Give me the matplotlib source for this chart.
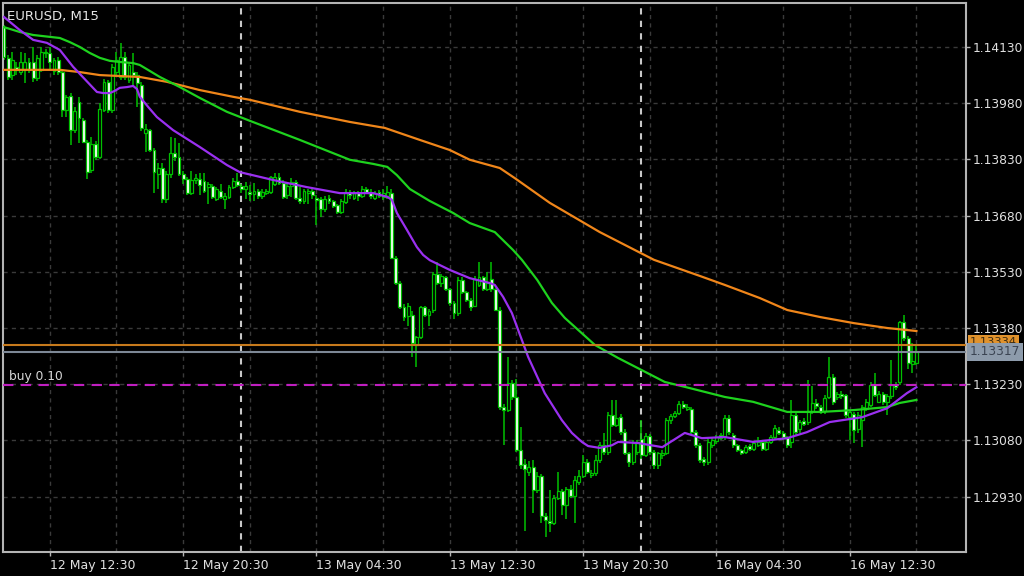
import numpy as np
import matplotlib
matplotlib.use("Agg")
import matplotlib.pyplot as plt
import matplotlib.transforms as mtransforms

# EURUSD M15 candles, bar 0 = 12 May 09:45
opens = [
    1.14183, 1.14101, 1.14055, 1.14077, 1.14063, 1.14069, 1.14090, 1.14090, 1.14047, 1.14069,
    1.14117, 1.14114, 1.14066, 1.14095, 1.14063, 1.13962, 1.13999, 1.13908, 1.13983, 1.13935,
    1.13877, 1.13803, 1.13872, 1.13836, 1.13962, 1.14037, 1.13962, 1.14063, 1.14050, 1.14103,
    1.14042, 1.14063, 1.14055, 1.14029, 1.13900, 1.13908, 1.13855, 1.13790, 1.13808, 1.13723,
    1.13790, 1.13847, 1.13836, 1.13790, 1.13777, 1.13740, 1.13775, 1.13777, 1.13773, 1.13755,
    1.13760, 1.13725, 1.13745, 1.13723, 1.13730, 1.13757, 1.13773, 1.13760, 1.13750, 1.13742,
    1.13737, 1.13745, 1.13733, 1.13740, 1.13742, 1.13765, 1.13782, 1.13768, 1.13735, 1.13760,
    1.13770, 1.13728, 1.13718, 1.13740, 1.13745, 1.13728, 1.13725, 1.13697, 1.13728, 1.13718,
    1.13708, 1.13690, 1.13715, 1.13742, 1.13728, 1.13740, 1.13733, 1.13752, 1.13742, 1.13728,
    1.13742, 1.13730, 1.13732, 1.13740, 1.13568, 1.13500, 1.13437, 1.13412, 1.13416, 1.13335,
    1.13355, 1.13435, 1.13416, 1.13429, 1.13523, 1.13500, 1.13515, 1.13483, 1.13448, 1.13420,
    1.13509, 1.13475, 1.13456, 1.13440, 1.13495, 1.13515, 1.13485, 1.13510, 1.13483, 1.13429,
    1.13168, 1.13161, 1.13232, 1.13195, 1.13054, 1.13018, 1.12995, 1.13010, 1.12947, 1.12985,
    1.12877, 1.12865, 1.12860, 1.12925, 1.12945, 1.12907, 1.12950, 1.12932, 1.12970, 1.12985,
    1.13022, 1.12987, 1.12992, 1.13027, 1.13067, 1.13048, 1.13148, 1.13121, 1.13143, 1.13102,
    1.13046, 1.13022, 1.13050, 1.13085, 1.13040, 1.13092, 1.13048, 1.13014, 1.13040, 1.13046,
    1.13134, 1.13145, 1.13152, 1.13178, 1.13165, 1.13165, 1.13102, 1.13067, 1.13030, 1.13022,
    1.13068, 1.13078, 1.13094, 1.13088, 1.13140, 1.13094, 1.13067, 1.13054, 1.13050, 1.13064,
    1.13058, 1.13068, 1.13075, 1.13058, 1.13075, 1.13088, 1.13107, 1.13100, 1.13088, 1.13075,
    1.13148, 1.13110, 1.13132, 1.13128, 1.13158, 1.13180, 1.13168, 1.13158, 1.13195, 1.13250,
    1.13195, 1.13205, 1.13200, 1.13142, 1.13150, 1.13110, 1.13135, 1.13165, 1.13175, 1.13228,
    1.13183, 1.13205, 1.13183, 1.13198, 1.13228, 1.13235, 1.13396, 1.13353, 1.13285, 1.13287,
]
highs = [
    1.14189, 1.14109, 1.14117, 1.14090, 1.14117, 1.14114, 1.14101, 1.14130, 1.14109, 1.14130,
    1.14125, 1.14130, 1.14101, 1.14104, 1.14069, 1.14002, 1.14007, 1.13970, 1.13997, 1.13940,
    1.13882, 1.13890, 1.13880, 1.13980, 1.14045, 1.14042, 1.14085, 1.14117, 1.14141, 1.14117,
    1.14090, 1.14114, 1.14063, 1.14037, 1.13925, 1.13912, 1.13860, 1.13820, 1.13820, 1.13800,
    1.13890, 1.13887, 1.13874, 1.13800, 1.13782, 1.13800, 1.13790, 1.13795, 1.13795, 1.13770,
    1.13765, 1.13755, 1.13765, 1.13740, 1.13763, 1.13780, 1.13795, 1.13765, 1.13770, 1.13763,
    1.13767, 1.13750, 1.13750, 1.13752, 1.13786, 1.13795, 1.13795, 1.13775, 1.13770, 1.13780,
    1.13775, 1.13757, 1.13752, 1.13750, 1.13755, 1.13735, 1.13730, 1.13732, 1.13735, 1.13722,
    1.13712, 1.13725, 1.13750, 1.13747, 1.13745, 1.13745, 1.13760, 1.13757, 1.13752, 1.13745,
    1.13747, 1.13750, 1.13760, 1.13752, 1.13572, 1.13505, 1.13445, 1.13448, 1.13425, 1.13360,
    1.13440, 1.13440, 1.13432, 1.13530, 1.13555, 1.13525, 1.13520, 1.13488, 1.13452, 1.13515,
    1.13515, 1.13480, 1.13460, 1.13520, 1.13555, 1.13520, 1.13530, 1.13555, 1.13488, 1.13435,
    1.13178, 1.13303, 1.13242, 1.13245, 1.13115, 1.13030, 1.13025, 1.13027, 1.12995, 1.12990,
    1.12885, 1.12947, 1.12935, 1.12995, 1.12950, 1.12955, 1.12960, 1.12985, 1.13000, 1.13040,
    1.13030, 1.13000, 1.13040, 1.13075, 1.13100, 1.13155, 1.13188, 1.13188, 1.13150, 1.13110,
    1.13050, 1.13080, 1.13080, 1.13134, 1.13100, 1.13098, 1.13055, 1.13050, 1.13055, 1.13140,
    1.13150, 1.13158, 1.13185, 1.13185, 1.13178, 1.13170, 1.13108, 1.13072, 1.13035, 1.13085,
    1.13090, 1.13095, 1.13100, 1.13148, 1.13148, 1.13100, 1.13070, 1.13058, 1.13067, 1.13070,
    1.13078, 1.13090, 1.13082, 1.13080, 1.13095, 1.13120, 1.13115, 1.13105, 1.13092, 1.13188,
    1.13155, 1.13135, 1.13140, 1.13242, 1.13225, 1.13190, 1.13175, 1.13200, 1.13303, 1.13258,
    1.13210, 1.13212, 1.13205, 1.13162, 1.13155, 1.13155, 1.13175, 1.13190, 1.13235, 1.13260,
    1.13212, 1.13210, 1.13205, 1.13295, 1.13235, 1.13400, 1.13416, 1.13360, 1.13340, 1.13335,
]
lows = [
    1.14095, 1.14042, 1.14042, 1.14055, 1.14055, 1.14034, 1.14060, 1.14037, 1.14040, 1.14063,
    1.14101, 1.14069, 1.14055, 1.14055, 1.13943, 1.13943, 1.13868, 1.13900, 1.13874, 1.13874,
    1.13777, 1.13795, 1.13828, 1.13830, 1.13957, 1.13955, 1.13955, 1.14050, 1.14042, 1.14042,
    1.14034, 1.14023, 1.13970, 1.13905, 1.13850, 1.13850, 1.13740, 1.13750, 1.13713, 1.13713,
    1.13780, 1.13825, 1.13785, 1.13765, 1.13735, 1.13735, 1.13765, 1.13735, 1.13740, 1.13710,
    1.13725, 1.13718, 1.13725, 1.13697, 1.13725, 1.13750, 1.13757, 1.13740, 1.13725, 1.13720,
    1.13720, 1.13725, 1.13725, 1.13735, 1.13737, 1.13760, 1.13763, 1.13725, 1.13725, 1.13730,
    1.13722, 1.13712, 1.13712, 1.13710, 1.13725, 1.13656, 1.13677, 1.13690, 1.13710, 1.13700,
    1.13683, 1.13685, 1.13712, 1.13725, 1.13722, 1.13720, 1.13728, 1.13737, 1.13725, 1.13722,
    1.13727, 1.13722, 1.13725, 1.13563, 1.13495, 1.13430, 1.13400, 1.13385, 1.13303, 1.13277,
    1.13350, 1.13410, 1.13385, 1.13420, 1.13495, 1.13490, 1.13478, 1.13440, 1.13403, 1.13412,
    1.13470, 1.13450, 1.13425, 1.13435, 1.13490, 1.13478, 1.13478, 1.13475, 1.13425, 1.13160,
    1.13067, 1.13155, 1.13188, 1.13050, 1.13005, 1.12837, 1.12985, 1.12885, 1.12940, 1.12860,
    1.12823, 1.12835, 1.12855, 1.12920, 1.12880, 1.12870, 1.12925, 1.12860, 1.12960, 1.12980,
    1.12990, 1.12980, 1.12985, 1.13020, 1.13040, 1.13040, 1.13115, 1.13115, 1.13095, 1.13040,
    1.13010, 1.13015, 1.13040, 1.13030, 1.13035, 1.13040, 1.13005, 1.13005, 1.13030, 1.13040,
    1.13125, 1.13140, 1.13148, 1.13165, 1.13158, 1.13095, 1.13060, 1.13020, 1.13012, 1.13015,
    1.13060, 1.13070, 1.13080, 1.13080, 1.13095, 1.13060, 1.13048, 1.13040, 1.13045, 1.13052,
    1.13052, 1.13062, 1.13052, 1.13052, 1.13070, 1.13082, 1.13095, 1.13082, 1.13060, 1.13060,
    1.13095, 1.13100, 1.13118, 1.13120, 1.13150, 1.13165, 1.13150, 1.13150, 1.13190, 1.13175,
    1.13188, 1.13190, 1.13140, 1.13080, 1.13072, 1.13100, 1.13062, 1.13158, 1.13168, 1.13195,
    1.13180, 1.13175, 1.13148, 1.13190, 1.13215, 1.13228, 1.13345, 1.13270, 1.13260, 1.13280,
]
closes = [
    1.14103, 1.14050, 1.14095, 1.14069, 1.14090, 1.14090, 1.14069, 1.14047, 1.14101, 1.14117,
    1.14114, 1.14090, 1.14095, 1.14063, 1.13962, 1.13997, 1.13908, 1.13960, 1.13940, 1.13877,
    1.13797, 1.13872, 1.13836, 1.13965, 1.14037, 1.13962, 1.14077, 1.14095, 1.14103, 1.14050,
    1.14082, 1.14055, 1.14034, 1.13914, 1.13910, 1.13855, 1.13797, 1.13808, 1.13723, 1.13790,
    1.13847, 1.13836, 1.13790, 1.13777, 1.13740, 1.13775, 1.13780, 1.13763, 1.13745, 1.13765,
    1.13730, 1.13750, 1.13730, 1.13733, 1.13757, 1.13773, 1.13763, 1.13750, 1.13760, 1.13737,
    1.13745, 1.13733, 1.13742, 1.13745, 1.13782, 1.13782, 1.13768, 1.13730, 1.13760, 1.13770,
    1.13728, 1.13718, 1.13745, 1.13745, 1.13735, 1.13722, 1.13697, 1.13725, 1.13718, 1.13705,
    1.13690, 1.13720, 1.13742, 1.13735, 1.13740, 1.13733, 1.13752, 1.13742, 1.13733, 1.13740,
    1.13733, 1.13740, 1.13742, 1.13568, 1.13500, 1.13437, 1.13410, 1.13440, 1.13341, 1.13355,
    1.13435, 1.13416, 1.13425, 1.13523, 1.13500, 1.13520, 1.13483, 1.13448, 1.13420, 1.13509,
    1.13475, 1.13456, 1.13437, 1.13512, 1.13515, 1.13485, 1.13500, 1.13483, 1.13429, 1.13168,
    1.13161, 1.13232, 1.13195, 1.13054, 1.13014, 1.13005, 1.13010, 1.12947, 1.12985, 1.12877,
    1.12868, 1.12860, 1.12925, 1.12945, 1.12907, 1.12950, 1.12932, 1.12974, 1.12985, 1.13022,
    1.12995, 1.12992, 1.13027, 1.13067, 1.13048, 1.13148, 1.13121, 1.13140, 1.13102, 1.13046,
    1.13022, 1.13072, 1.13075, 1.13040, 1.13092, 1.13048, 1.13014, 1.13046, 1.13046, 1.13134,
    1.13145, 1.13152, 1.13178, 1.13170, 1.13170, 1.13102, 1.13067, 1.13027, 1.13022, 1.13075,
    1.13080, 1.13090, 1.13086, 1.13140, 1.13102, 1.13067, 1.13054, 1.13046, 1.13062, 1.13058,
    1.13072, 1.13075, 1.13058, 1.13075, 1.13088, 1.13112, 1.13100, 1.13088, 1.13067, 1.13148,
    1.13102, 1.13128, 1.13124, 1.13158, 1.13180, 1.13172, 1.13155, 1.13192, 1.13250, 1.13182,
    1.13203, 1.13198, 1.13148, 1.13155, 1.13108, 1.13148, 1.13168, 1.13182, 1.13228, 1.13201,
    1.13205, 1.13183, 1.13198, 1.13228, 1.13222, 1.13396, 1.13353, 1.13287, 1.13292, 1.13317,
]

# moving averages (bar index, price)
ma_fast_bar = [0, 3.8, 7, 10.3, 13.4, 16.6, 20, 22.3, 23.8, 25.4, 26.6, 27.8, 29.5, 31, 31.9,
               32.6, 34.6, 36.7, 40.6, 47, 53.5, 56.6, 64.6, 72.7, 80.6, 88.6, 92, 93.1, 94.3,
               96.7, 99.1, 100.6, 102.2, 107, 111.8, 116.6, 117.8, 119.8, 121.9, 125.8, 129.8,
               133.9, 136.3, 138.7, 140.2, 143, 145.9, 147.4, 152.2, 158, 163.4, 167.5, 173,
               179.8, 188, 192.7, 198.2, 206, 212, 216.7, 219]
ma_fast_val = [1.14210, 1.14175, 1.14149, 1.14141, 1.14122, 1.14077, 1.14037, 1.14010, 1.14007,
               1.14007, 1.14013, 1.14021, 1.14023, 1.14026, 1.14018, 1.13997, 1.13970, 1.13943,
               1.13908, 1.13863, 1.13815, 1.13796, 1.13775, 1.13756, 1.13740, 1.13740, 1.13730,
               1.13722, 1.13687, 1.13642, 1.13596, 1.13575, 1.13561, 1.13535, 1.13513, 1.13500,
               1.13495, 1.13463, 1.13420, 1.13303, 1.13206, 1.13134, 1.13100, 1.13076, 1.13065,
               1.13060, 1.13067, 1.13076, 1.13073, 1.13062, 1.13100, 1.13086, 1.13089, 1.13076,
               1.13086, 1.13102, 1.13129, 1.13142, 1.13166, 1.13206, 1.13222]

ma_mid_bar = [0, 3.8, 7, 11, 13.4, 15.8, 18.2, 20.6, 23, 25.4, 27.8, 31, 32.6, 35, 37.4, 42.2,
              47, 53.5, 59, 71, 83, 88.6, 92, 94.3, 97.4, 102.2, 107.8, 111.8, 117.8, 122.2,
              124.3, 128, 131.5, 134.6, 137.8, 141.8, 147.4, 153, 158.6, 163.4, 173, 179.8,
              188, 196, 204, 212, 215, 219]
ma_mid_val = [1.14183, 1.14170, 1.14162, 1.14157, 1.14154, 1.14143, 1.14130, 1.14114, 1.14101,
              1.14093, 1.14090, 1.14087, 1.14082, 1.14066, 1.14050, 1.14023, 1.13994, 1.13957,
              1.13933, 1.13882, 1.13829, 1.13818, 1.13810, 1.13788, 1.13751, 1.13719, 1.13687,
              1.13660, 1.13636, 1.13588, 1.13562, 1.13508, 1.13447, 1.13407, 1.13375, 1.13335,
              1.13300, 1.13268, 1.13236, 1.13223, 1.13196, 1.13183, 1.13156, 1.13156, 1.13161,
              1.13169, 1.13180, 1.13188]

ma_slow_bar = [0, 13.4, 18.2, 23, 32.6, 39.1, 47, 55, 59, 71, 83, 91.4, 99.8, 107, 111.8, 119,
               122.6, 131, 143, 156, 167, 173, 181.4, 188, 196, 204, 212, 219]
ma_slow_val = [1.14069, 1.14069, 1.14063, 1.14055, 1.14050, 1.14037, 1.14015, 1.13997, 1.13989,
               1.13957, 1.13930, 1.13914, 1.13882, 1.13855, 1.13829, 1.13807, 1.13780, 1.13714,
               1.13636, 1.13562, 1.13519, 1.13495, 1.13460, 1.13428, 1.13409, 1.13393, 1.13380,
               1.13372]

price_ticks = [1.14130, 1.13980, 1.13830, 1.13680, 1.13530, 1.13380, 1.13230, 1.13080, 1.12930]
time_bars = [11, 43, 75, 107, 139, 171, 203]
time_labels = ["12 May 12:30", "12 May 20:30", "13 May 04:30", "13 May 12:30",
               "13 May 20:30", "16 May 04:30", "16 May 12:30"]
grid_bars = [11, 27, 43, 59, 75, 91, 107, 123, 139, 155, 171, 187, 203, 219]
day_bars = [57, 153]
bid = 1.13317
ask = 1.13334
buy_price = 1.13228

GREEN = "#00c000"
plt.rcParams["font.family"] = "DejaVu Sans"

fig = plt.figure(figsize=(10.24, 5.76), dpi=100, facecolor="black")
ax = fig.add_axes([3 / 1024, 24 / 576, 963 / 1024, 549 / 576])
ax.set_facecolor("black")

x = np.arange(len(opens))
o = np.array(opens)
c = np.array(closes)

# grid
for p in price_ticks:
    ax.axhline(p, color="#3a3a3a", lw=1, ls=(0, (3, 3)), zorder=1)
for b in grid_bars:
    ax.axvline(b, color="#3a3a3a", lw=1, ls=(0, (3, 3)), zorder=1)
for b in day_bars:
    ax.axvline(b, color="#c8c8c8", lw=1.5, ls=(0, (3, 3)), zorder=1)

# candles
ax.vlines(x, lows, highs, color=GREEN, lw=1.1, zorder=2)
face = np.where(c < o, "white", "black")
ax.bar(x, np.abs(c - o), bottom=np.minimum(o, c), width=0.7, color=face,
       edgecolor=GREEN, linewidth=0.9, zorder=3)

# moving averages
ax.plot(ma_slow_bar, ma_slow_val, color="#f0861a", lw=1.6, zorder=4)
ax.plot(ma_mid_bar, ma_mid_val, color="#1ed21e", lw=1.6, zorder=4)
ax.plot(ma_fast_bar, ma_fast_val, color="#9a30f0", lw=1.6, zorder=4)

# price lines
ax.axhline(ask, color="#c77a1c", lw=1.5, zorder=5)
ax.axhline(bid, color="#7d8896", lw=1.5, zorder=5)
ax.axhline(buy_price, color="#c01fc0", lw=1.5, ls=(0, (5, 3.5)), zorder=5)
ax.text(1.2, buy_price + 0.00004, "buy 0.10", color="#d8d8d8", fontsize=8.8,
        va="bottom", ha="left", zorder=6)

ax.text(0.004, 0.988, "EURUSD, M15", transform=ax.transAxes, color="#e6e6e6",
        fontsize=9.5, va="top", ha="left")

ax.set_xlim(-0.24, 230.9)
ax.set_ylim(1.127822, 1.142474)

ax.yaxis.tick_right()
ax.set_yticks(price_ticks)
ax.set_yticklabels(["%.5f" % p for p in price_ticks])
ax.set_xticks(time_bars)
ax.set_xticklabels(time_labels)
for lab in ax.get_xticklabels():
    lab.set_ha("left")
ax.tick_params(axis="both", colors="#b4b4b4", labelcolor="#e0e0e0", labelsize=8.8,
               length=3, width=1, direction="out")
ax.tick_params(axis="x", labelsize=9, pad=2)
ax.tick_params(axis="y", pad=2)
for s in ax.spines.values():
    s.set_color("#b4b4b4")
    s.set_linewidth(1.5)

# price labels on the scale (ask label sits partly behind the bid label)
tr = mtransforms.blended_transform_factory(ax.transAxes, ax.transData)
ax.text(1.004, ask + 0.00009, "%.5f" % ask, transform=tr, color="#3a2a10", fontsize=8.2,
        va="center", ha="left", clip_on=False, zorder=7,
        bbox=dict(boxstyle="square,pad=0.2", fc="#e0922c", ec="none"))
ax.text(1.004, bid, "%.5f" % bid, transform=tr, color="#3b4452", fontsize=8.8,
        va="center", ha="left", clip_on=False, zorder=8,
        bbox=dict(boxstyle="square,pad=0.2", fc="#8d9bab", ec="none"))

fig.savefig("out.png", dpi=100, facecolor="black")
